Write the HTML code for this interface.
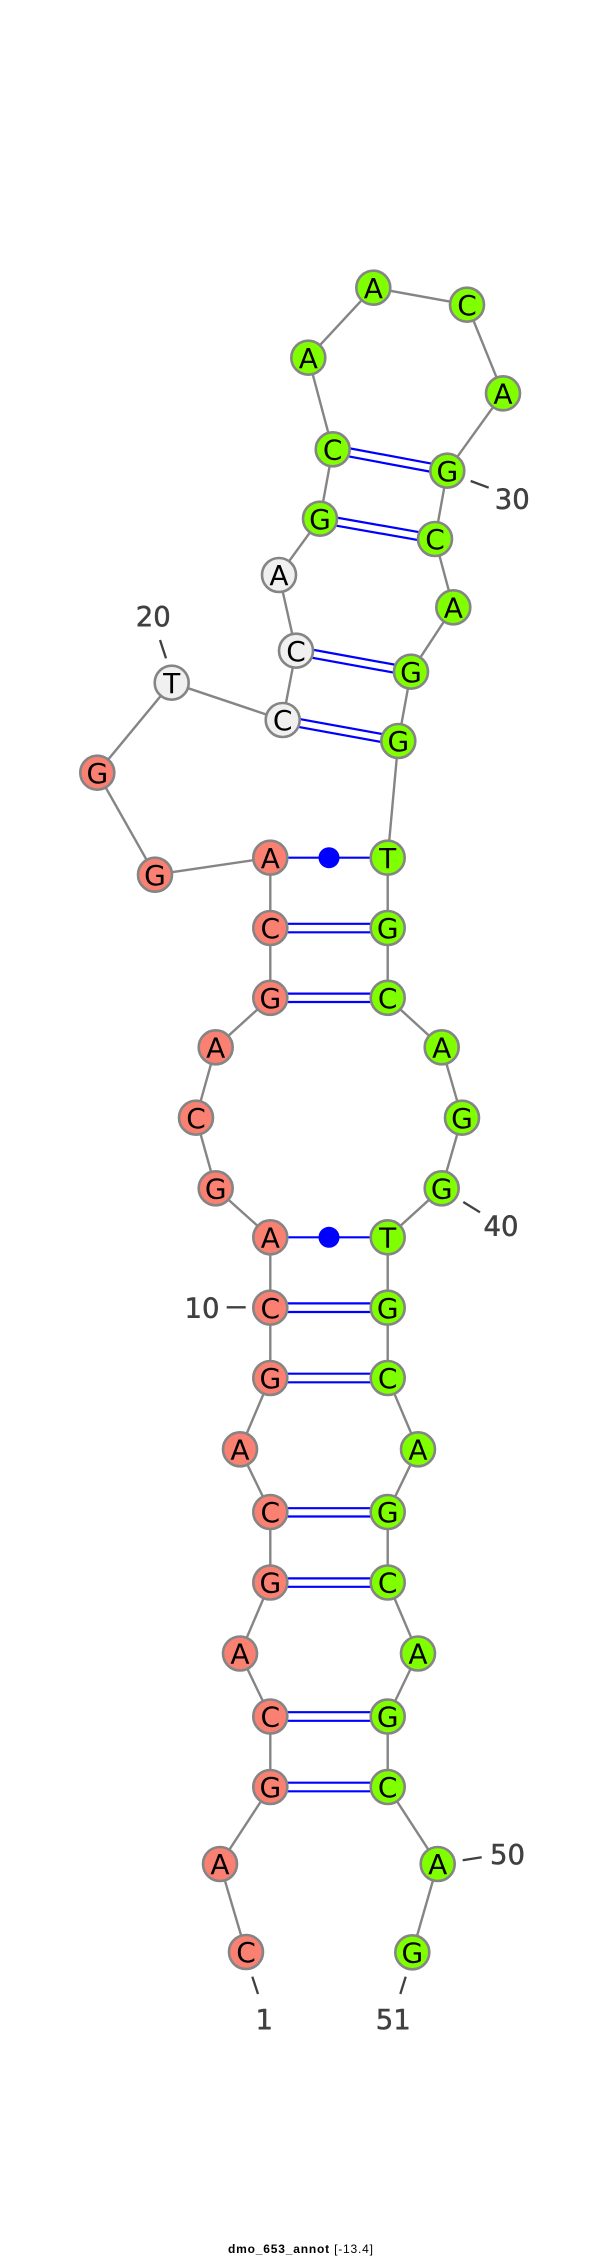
<!DOCTYPE html>
<html>
<head>
<meta charset="utf-8">
<style>
html,body{margin:0;padding:0;background:#fff;}
svg{display:block;}
.n text{font-family:"DejaVu Sans",sans-serif;font-size:28px;text-anchor:middle;fill:#000;}
.n circle{stroke:#858585;stroke-width:2.6;}
.s circle{fill:#fa8072;}
.g circle{fill:#7fff00;}
.w circle{fill:#f0f0f0;}
.l{font-family:"DejaVu Sans",sans-serif;font-size:27.5px;fill:#404040;text-anchor:middle;stroke:#404040;stroke-width:.5;}
.p{stroke:#0000ff;stroke-width:2.2;fill:none;}
.t{stroke:#404040;stroke-width:2.3;}
</style>
</head>
<body>
<svg width="600" height="2258" viewBox="0 0 600 2258" xmlns="http://www.w3.org/2000/svg">
<rect width="600" height="2258" fill="#fff"/>
<polyline fill="none" stroke="#858585" stroke-width="2.4" points="246,1952 220,1864 270.3,1787 270.3,1716.5 240,1653.5 270.3,1582.5 270.3,1512 240,1449.3 270.3,1378 270.3,1307.7 270.3,1237.3 215.7,1188.3 196,1117.7 215.7,1047.3 270.3,997.8 270.3,928 270.3,857.7 155,874.7 97.3,772.7 171.7,682.7 282.7,720 296,650.7 279,575 320,518.7 332.7,449.3 308.3,357.7 373.3,287.7 467,304.7 503,393.3 447.3,470.7 435,539 453.3,607.3 411,671.7 398.3,741 387.7,857.7 387.7,928 387.7,997.8 441.7,1047.3 462,1117.7 441.7,1188.3 387.7,1237.3 387.7,1307.7 387.7,1378 418,1449.3 387.7,1512 387.7,1582.5 418,1653.5 387.7,1716.5 387.7,1787 437.7,1864 412.3,1952.3"/>
<g class="p">
<line x1="331.9" y1="445" x2="446.5" y2="466.4"/><line x1="333.5" y1="453.6" x2="448.1" y2="475"/>
<line x1="319.2" y1="514.5" x2="434.2" y2="534.8"/><line x1="320.8" y1="522.9" x2="435.8" y2="543.2"/>
<line x1="295.2" y1="646.5" x2="410.2" y2="667.5"/><line x1="296.8" y1="654.9" x2="411.8" y2="675.9"/>
<line x1="281.9" y1="715.8" x2="397.5" y2="736.8"/><line x1="283.5" y1="724.2" x2="399.1" y2="745.2"/>
<line x1="270.3" y1="857.7" x2="387.7" y2="857.7"/>
<line x1="270.3" y1="923.8" x2="387.7" y2="923.8"/><line x1="270.3" y1="932.3" x2="387.7" y2="932.3"/>
<line x1="270.3" y1="993.6" x2="387.7" y2="993.6"/><line x1="270.3" y1="1002" x2="387.7" y2="1002"/>
<line x1="270.3" y1="1237.3" x2="387.7" y2="1237.3"/>
<line x1="270.3" y1="1303.4" x2="387.7" y2="1303.4"/><line x1="270.3" y1="1312" x2="387.7" y2="1312"/>
<line x1="270.3" y1="1373.7" x2="387.7" y2="1373.7"/><line x1="270.3" y1="1382.3" x2="387.7" y2="1382.3"/>
<line x1="270.3" y1="1508.2" x2="387.7" y2="1508.2"/><line x1="270.3" y1="1516.5" x2="387.7" y2="1516.5"/>
<line x1="270.3" y1="1578.4" x2="387.7" y2="1578.4"/><line x1="270.3" y1="1586.8" x2="387.7" y2="1586.8"/>
<line x1="270.3" y1="1712.2" x2="387.7" y2="1712.2"/><line x1="270.3" y1="1720.8" x2="387.7" y2="1720.8"/>
<line x1="270.3" y1="1782.7" x2="387.7" y2="1782.7"/><line x1="270.3" y1="1791.3" x2="387.7" y2="1791.3"/>
</g>
<circle cx="329" cy="857.7" r="10.5" fill="#0000ff"/>
<circle cx="329" cy="1237.3" r="10.5" fill="#0000ff"/>
<g class="t">
<line x1="252.3" y1="1976.7" x2="258" y2="1994"/>
<line x1="405.7" y1="1976.7" x2="400.3" y2="1994"/>
<line x1="462.7" y1="1860.3" x2="481.7" y2="1857.3"/>
<line x1="470.7" y1="481" x2="488.7" y2="487.7"/>
<line x1="160" y1="640" x2="166" y2="658.3"/>
<line x1="226.7" y1="1307.3" x2="245.7" y2="1307.3"/>
<line x1="463.3" y1="1202" x2="480" y2="1212.3"/>
</g>
<text class="l" x="264.3" y="2029">1</text>
<text class="l" x="393.3" y="2029">51</text>
<text class="l" x="507.5" y="1864">50</text>
<text class="l" x="501" y="1235.7">40</text>
<text class="l" x="512.3" y="508.7">30</text>
<text class="l" x="153.3" y="626">20</text>
<text class="l" x="202" y="1317.7">10</text>
<g class="n s">
<circle cx="246" cy="1952" r="17"/><text x="246" y="1962.2">C</text>
<circle cx="220" cy="1864" r="17"/><text x="220" y="1874.2">A</text>
<circle cx="270.3" cy="1787" r="17"/><text x="270.3" y="1797.2">G</text>
<circle cx="270.3" cy="1716.5" r="17"/><text x="270.3" y="1726.7">C</text>
<circle cx="240" cy="1653.5" r="17"/><text x="240" y="1663.7">A</text>
<circle cx="270.3" cy="1582.5" r="17"/><text x="270.3" y="1592.7">G</text>
<circle cx="270.3" cy="1512" r="17"/><text x="270.3" y="1522.2">C</text>
<circle cx="240" cy="1449.3" r="17"/><text x="240" y="1459.5">A</text>
<circle cx="270.3" cy="1378" r="17"/><text x="270.3" y="1388.2">G</text>
<circle cx="270.3" cy="1307.7" r="17"/><text x="270.3" y="1317.9">C</text>
<circle cx="270.3" cy="1237.3" r="17"/><text x="270.3" y="1247.5">A</text>
<circle cx="215.7" cy="1188.3" r="17"/><text x="215.7" y="1198.5">G</text>
<circle cx="196" cy="1117.7" r="17"/><text x="196" y="1127.9">C</text>
<circle cx="215.7" cy="1047.3" r="17"/><text x="215.7" y="1057.5">A</text>
<circle cx="270.3" cy="997.8" r="17"/><text x="270.3" y="1008">G</text>
<circle cx="270.3" cy="928" r="17"/><text x="270.3" y="938.2">C</text>
<circle cx="270.3" cy="857.7" r="17"/><text x="270.3" y="867.9">A</text>
<circle cx="155" cy="874.7" r="17"/><text x="155" y="884.9">G</text>
<circle cx="97.3" cy="772.7" r="17"/><text x="97.3" y="782.9">G</text>
</g>
<g class="n w">
<circle cx="171.7" cy="682.7" r="17"/><text x="171.7" y="692.9">T</text>
<circle cx="282.7" cy="720" r="17"/><text x="282.7" y="730.2">C</text>
<circle cx="296" cy="650.7" r="17"/><text x="296" y="660.9">C</text>
<circle cx="279" cy="575" r="17"/><text x="279" y="585.2">A</text>
</g>
<g class="n g">
<circle cx="320" cy="518.7" r="17"/><text x="320" y="528.9">G</text>
<circle cx="332.7" cy="449.3" r="17"/><text x="332.7" y="459.5">C</text>
<circle cx="308.3" cy="357.7" r="17"/><text x="308.3" y="367.9">A</text>
<circle cx="373.3" cy="287.7" r="17"/><text x="373.3" y="297.9">A</text>
<circle cx="467" cy="304.7" r="17"/><text x="467" y="314.9">C</text>
<circle cx="503" cy="393.3" r="17"/><text x="503" y="403.5">A</text>
<circle cx="447.3" cy="470.7" r="17"/><text x="447.3" y="480.9">G</text>
<circle cx="435" cy="539" r="17"/><text x="435" y="549.2">C</text>
<circle cx="453.3" cy="607.3" r="17"/><text x="453.3" y="617.5">A</text>
<circle cx="411" cy="671.7" r="17"/><text x="411" y="681.9">G</text>
<circle cx="398.3" cy="741" r="17"/><text x="398.3" y="751.2">G</text>
<circle cx="387.7" cy="857.7" r="17"/><text x="387.7" y="867.9">T</text>
<circle cx="387.7" cy="928" r="17"/><text x="387.7" y="938.2">G</text>
<circle cx="387.7" cy="997.8" r="17"/><text x="387.7" y="1008">C</text>
<circle cx="441.7" cy="1047.3" r="17"/><text x="441.7" y="1057.5">A</text>
<circle cx="462" cy="1117.7" r="17"/><text x="462" y="1127.9">G</text>
<circle cx="441.7" cy="1188.3" r="17"/><text x="441.7" y="1198.5">G</text>
<circle cx="387.7" cy="1237.3" r="17"/><text x="387.7" y="1247.5">T</text>
<circle cx="387.7" cy="1307.7" r="17"/><text x="387.7" y="1317.9">G</text>
<circle cx="387.7" cy="1378" r="17"/><text x="387.7" y="1388.2">C</text>
<circle cx="418" cy="1449.3" r="17"/><text x="418" y="1459.5">A</text>
<circle cx="387.7" cy="1512" r="17"/><text x="387.7" y="1522.2">G</text>
<circle cx="387.7" cy="1582.5" r="17"/><text x="387.7" y="1592.7">C</text>
<circle cx="418" cy="1653.5" r="17"/><text x="418" y="1663.7">A</text>
<circle cx="387.7" cy="1716.5" r="17"/><text x="387.7" y="1726.7">G</text>
<circle cx="387.7" cy="1787" r="17"/><text x="387.7" y="1797.2">C</text>
<circle cx="437.7" cy="1864" r="17"/><text x="437.7" y="1874.2">A</text>
<circle cx="412.3" cy="1952.3" r="17"/><text x="412.3" y="1962.5">G</text>
</g>
<text x="228" y="2253" textLength="145" lengthAdjust="spacing" font-family="'Liberation Sans',sans-serif" font-size="12" fill="#000"><tspan font-weight="bold">dmo_653_annot</tspan> [-13.4]</text>
</svg>
</body>
</html>
